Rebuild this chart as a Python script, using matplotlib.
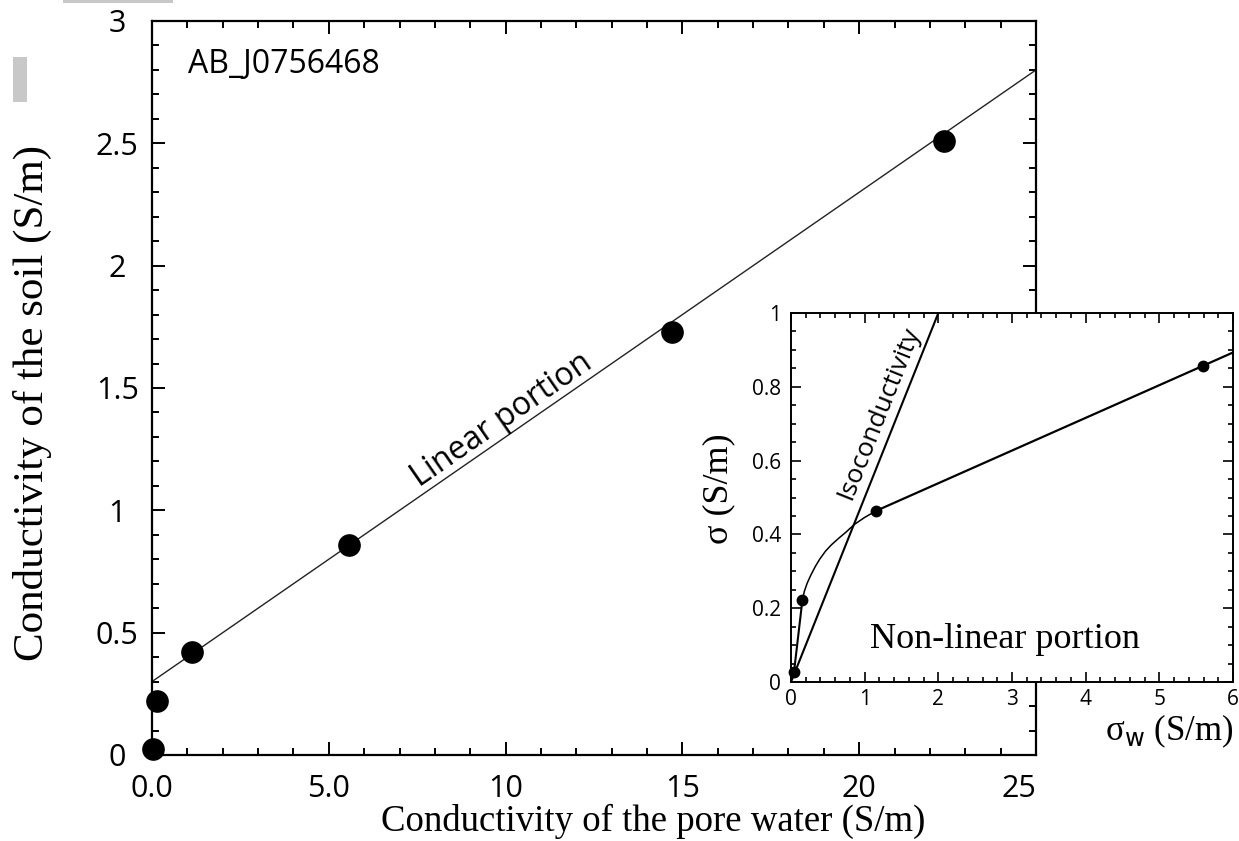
import matplotlib
matplotlib.use("Agg")
import matplotlib.pyplot as plt
from matplotlib.patches import Rectangle
from matplotlib.ticker import MultipleLocator, FixedLocator, FixedFormatter

plt.rcParams['mathtext.fontset'] = 'dejavusans'

SANS = 'Open Sans'
SERIF = 'Liberation Serif'

# main plot data
sw = [0.04, 0.15, 1.12, 5.58, 14.7, 22.4]
sig = [0.025, 0.22, 0.42, 0.858, 1.73, 2.51]
lin_x = [0, 25]
lin_y = [0.3, 2.8]
x_ticks = [0, 5, 10, 15, 20, 25]
x_labels = ['0.0', '5.0', '10', '15', '20', '25']
y_ticks = [0, 0.5, 1, 1.5, 2, 2.5, 3]
y_labels = ['0', '0.5', '1', '1.5', '2', '2.5', '3']

# inset data
in_x = [0.04, 0.154, 1.157, 5.59]
in_y = [0.026, 0.221, 0.464, 0.856]
curve_x = [0.154, 0.18, 0.22, 0.27, 0.33, 0.39, 0.47, 0.55, 0.65, 0.74, 0.86, 1.0, 1.157]
curve_y = [0.221, 0.245, 0.268, 0.29, 0.313, 0.333, 0.355, 0.372, 0.39, 0.405, 0.427, 0.446, 0.464]
fit_x = [1.157, 6]
fit_y = [0.464, 0.893]
iso_x = [0, 2.0]
iso_y = [0, 1.0]
in_xticks = [0, 1, 2, 3, 4, 5, 6]
in_yticks = [0, 0.2, 0.4, 0.6, 0.8, 1]
in_ylabels = ['0', '0.2', '0.4', '0.6', '0.8', '1']

fig = plt.figure(figsize=(12.39, 8.41), dpi=100)

# grey scan marks at the left/top edge of the reference
fig.patches.append(Rectangle((63/1239, 1-3/841), 110/1239, 3/841, transform=fig.transFigure,
                             color='#c8c8c8', lw=0))
fig.patches.append(Rectangle((13/1239, 1-102/841), 14/1239, 45/841, transform=fig.transFigure,
                             color='#c8c8c8', lw=0))

ax = fig.add_axes([152/1239, 1-755/841, 884/1239, 734/841])

ax.plot(lin_x, lin_y, color='#222222', lw=1.0, zorder=2)
ax.plot(sw, sig, 'o', color='black', ms=15.3, clip_on=False, zorder=3)
ax.set_xlim(0, 25)
ax.set_ylim(0, 3)

ax.xaxis.set_major_locator(FixedLocator(x_ticks))
ax.xaxis.set_major_formatter(FixedFormatter(x_labels))
ax.yaxis.set_major_locator(FixedLocator(y_ticks))
ax.yaxis.set_major_formatter(FixedFormatter(y_labels))
ax.xaxis.set_minor_locator(MultipleLocator(1))
ax.yaxis.set_minor_locator(MultipleLocator(0.1))
ax.tick_params(which='both', direction='in', top=True, right=True, width=1.4)
ax.tick_params(which='major', length=9.5)
ax.tick_params(which='minor', length=5)
ax.tick_params(axis='y', which='major', pad=25)
ax.tick_params(axis='x', which='major', pad=14)
for lab in ax.get_xticklabels() + ax.get_yticklabels():
    lab.set_fontfamily(SANS)
    lab.set_fontsize(22)
for lab in ax.get_yticklabels():
    lab.set_ha('center')
ax.get_xticklabels()[-1].set_ha('right')
for s in ax.spines.values():
    s.set_linewidth(1.6)

ax.set_xlabel('Conductivity of the pore water (S/m)', family=SERIF, fontsize=26.5)
ax.xaxis.set_label_coords(0.567, -0.066)
ax.set_ylabel('Conductivity of the soil (S/m)', family=SERIF, fontsize=31)
ax.yaxis.set_label_coords(-0.113, 0.48)

ax.text(0.041, 0.941, 'AB_J0756468', transform=ax.transAxes, family=SANS,
        fontsize=23, va='center', ha='left')
ax.text(9.9, 1.37, 'Linear portion', family=SANS, fontsize=23, rotation=34.7,
        rotation_mode='anchor', ha='center', va='center')

# inset
ins = fig.add_axes([791/1239, 1-682/841, 442/1239, 369/841])
ins.set_facecolor('white')
ins.plot(iso_x, iso_y, color='black', lw=1.5)
ins.plot(in_x[:2], in_y[:2], color='black', lw=1.5)
ins.plot(curve_x, curve_y, color='black', lw=1.1)
ins.plot(fit_x, fit_y, color='black', lw=1.6)
ins.plot(in_x, in_y, 'o', color='black', ms=7.5, clip_on=False, zorder=3)
ins.set_xlim(0, 6)
ins.set_ylim(0, 1)
ins.xaxis.set_major_locator(FixedLocator(in_xticks))
ins.yaxis.set_major_locator(FixedLocator(in_yticks))
ins.yaxis.set_major_formatter(FixedFormatter(in_ylabels))
ins.xaxis.set_minor_locator(MultipleLocator(0.2))
ins.yaxis.set_minor_locator(MultipleLocator(0.05))
ins.tick_params(which='both', direction='in', top=True, right=True, width=1.2)
ins.tick_params(which='major', length=7)
ins.tick_params(which='minor', length=3.5)
ins.tick_params(axis='y', which='major', pad=7)
ins.tick_params(axis='x', which='major', pad=5)
for lab in ins.get_xticklabels() + ins.get_yticklabels():
    lab.set_fontfamily(SANS)
    lab.set_fontsize(15)
for s in ins.spines.values():
    s.set_linewidth(1.4)

ins.set_xlabel('σ$_\\mathrm{w}$ (S/m)', family=SERIF, fontsize=25, loc='right', labelpad=2)
ins.set_ylabel('σ (S/m)', family=SERIF, fontsize=26)
ins.yaxis.set_label_coords(-0.125, 0.525)
ins.text(1.2, 0.73, 'Isoconductivity', family=SANS, fontsize=19, rotation=68.2,
         rotation_mode='anchor', ha='center', va='center')
ins.text(2.9, 0.115, 'Non-linear portion', family=SERIF, fontsize=26,
         ha='center', va='center')

fig.savefig('out.png', dpi=100)
